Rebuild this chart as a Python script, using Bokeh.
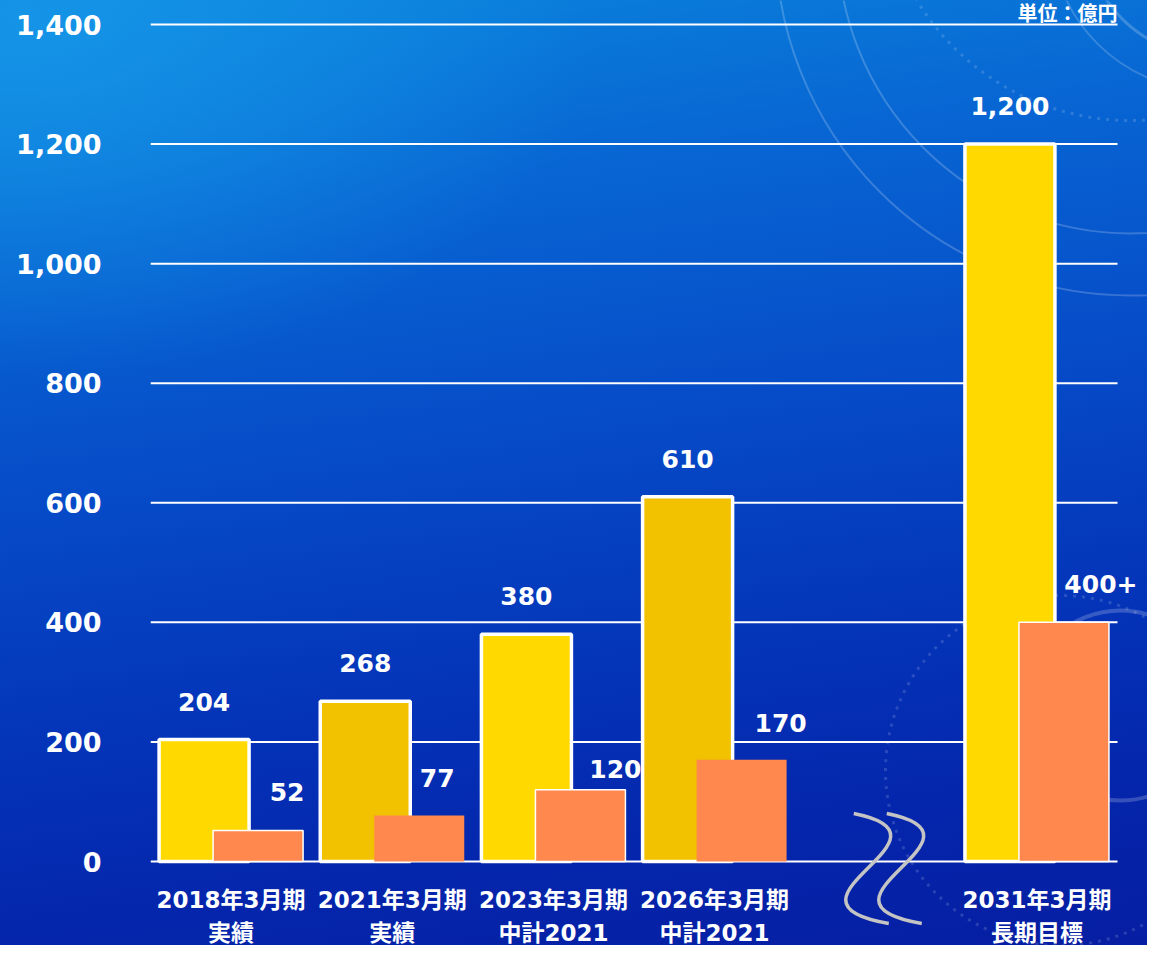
from bokeh.plotting import figure
from bokeh.models import ColumnDataSource, FixedTicker, NumeralTickFormatter
from bokeh.core.properties import value
from bokeh.transform import dodge
from bokeh.embed import file_html
from bokeh.resources import INLINE

# ---- data ----
periods = ["2018年3月期", "2021年3月期", "2023年3月期", "2026年3月期", "2031年3月期"]
kinds = ["実績", "実績", "中計2021", "中計2021", "長期目標"]
slots = [0, 1, 2, 3, 5]          # slot 4 is the axis break
yellow_vals = [204, 268, 380, 610, 1200]
orange_vals = [52, 77, 120, 170, 400]
yellow_text = ["204", "268", "380", "610", "1,200"]
orange_text = ["52", "77", "120", "170", "400+"]
y_ticks = [0, 200, 400, 600, 800, 1000, 1200, 1400]
unit_label = "単位：億円"

# ---- styling ----
yellow_colors = ["#FFD900", "#F2C200", "#FFD900", "#F2C200", "#FFD900"]
orange_color = "#FF884E"
orange_outline = [1.5, 0, 1.5, 0, 1.5]
orange_dx = [29, 18, 35, 39, 37]
orange_dy = [-38, -37, -21, -37, -38]
FONT = value("DejaVu Sans, Noto Sans CJK JP")

W, H = 1147, 945
LEFT = 150
PX_PER_Y = 837 / 1400
PX_PER_X = 161.17
BASE = 861
y_top = BASE / PX_PER_Y
y_bot = -(H - BASE) / PX_PER_Y
x_end = -0.5 + (W - LEFT) / PX_PER_X
X0, X1 = -0.5, 5.5   # plotting area used by grid lines

p = figure(width=W, height=H, x_range=(-0.5, x_end), y_range=(y_bot, y_top),
           output_backend="svg", toolbar_location=None,
           min_border_left=LEFT, min_border_right=0,
           min_border_top=0, min_border_bottom=0)
p.styles = {"background": "radial-gradient(ellipse 50% 38% at 2% 2%, rgba(22,150,232,0.9) 0%, rgba(22,150,232,0) 100%), "
                          "linear-gradient(172deg, #0A86DD 0%, #0866D3 22%, #064CC8 45%, #0436BA 66%, #0426AC 84%, #061EA2 100%)"}
p.border_fill_color = None
p.background_fill_color = None
p.outline_line_color = None
p.xaxis.visible = False
p.grid.visible = False

yax = p.yaxis[0]
yax.ticker = FixedTicker(ticks=y_ticks)
yax.formatter = NumeralTickFormatter(format="0,0")
yax.axis_line_color = None
yax.major_tick_line_color = None
yax.minor_tick_line_color = None
yax.major_label_standoff = 43
yax.major_label_text_color = "white"
yax.major_label_text_font = "DejaVu Sans"
yax.major_label_text_font_style = "bold"
yax.major_label_text_font_size = "27px"

# faint decorative rings
def px2x(px):
    return (px - LEFT) / PX_PER_X - 0.5
def py2y(py):
    return (BASE - py) / PX_PER_Y
deco = ColumnDataSource(dict(
    x=[px2x(1130), px2x(1130), px2x(1210), px2x(1210), px2x(1120)],
    y=[py2y(-60), py2y(-60), py2y(-70), py2y(-70), py2y(705)],
    r=[355, 293, 125, 160, 95],
    a=[0.2, 0.2, 0.2, 0.18, 0.2],
    w=[2, 2, 3, 2, 4],
))
p.circle(x="x", y="y", radius="r", radius_units="screen", source=deco,
         fill_color=None, line_color="white", line_alpha="a", line_width="w")
dots = ColumnDataSource(dict(x=[px2x(1130), px2x(1060)], y=[py2y(-130), py2y(770)], r=[250, 175]))
p.circle(x="x", y="y", radius="r", radius_units="screen", source=dots,
         fill_color=None, line_color="white", line_alpha=0.15, line_width=3, line_dash="3 6")

# grid lines (white) across the plotting area
gsrc = ColumnDataSource(dict(y=y_ticks, x0=[X0] * len(y_ticks), x1=[X1] * len(y_ticks)))
p.segment(x0="x0", x1="x1", y0="y", y1="y", source=gsrc, line_color="white", line_width=2)

src = ColumnDataSource(dict(
    slot=slots, yv=yellow_vals, ov=orange_vals, yt=yellow_text, ot=orange_text,
    period=periods, kind=kinds, ycol=yellow_colors, olw=orange_outline,
    odx=orange_dx, ody=orange_dy, zero=[0] * len(slots),
))
OFF = 27 / PX_PER_X
BW = 90 / PX_PER_X
p.vbar(x=dodge("slot", -OFF, range=p.x_range), top="yv", width=BW, source=src,
       fill_color="ycol", line_color="white", line_width=3.5)
p.vbar(x=dodge("slot", OFF, range=p.x_range), top="ov", width=BW, source=src,
       fill_color=orange_color, line_color="white", line_width="olw")

p.text(x=dodge("slot", -OFF, range=p.x_range), y="yv", text="yt", source=src,
       y_offset=-38, text_align="center", text_baseline="middle",
       text_color="white", text_font=value("DejaVu Sans"), text_font_style="bold",
       text_font_size="25px")
p.text(x=dodge("slot", OFF, range=p.x_range), y="ov", text="ot", source=src,
       x_offset="odx", y_offset="ody", text_align="center", text_baseline="middle",
       text_color="white", text_font=value("DejaVu Sans"), text_font_style="bold",
       text_font_size="25px")

p.text(x="slot", y="zero", text="period", source=src, y_offset=38,
       text_align="center", text_baseline="middle", text_color="white",
       text_font=FONT, text_font_style="bold", text_font_size="23px")
p.text(x="slot", y="zero", text="kind", source=src, y_offset=71,
       text_align="center", text_baseline="middle", text_color="white",
       text_font=FONT, text_font_style="bold", text_font_size="23px")

# unit label at top-right
p.text(x=[X1], y=[y_ticks[-1]], text=[unit_label], y_offset=-23,
       text_align="right", text_baseline="top", text_color="white",
       text_font=FONT, text_font_style="bold", text_font_size="20px")

# axis-break squiggle at slot 4
bx = 4
def sx(dpx):
    return bx + dpx / PX_PER_X
def sy(dpy):
    return -dpy / PX_PER_Y
for shift in (0, 33):
    p.bezier(x0=[sx(-22 + shift)], y0=[sy(-48)], x1=[sx(13 + shift)], y1=[sy(62)],
             cx0=[sx(95 + shift)], cy0=[sy(-25)], cx1=[sx(-115 + shift)], cy1=[sy(40)],
             line_color="#C4C4C4", line_width=3.5)

open("out.html", "w").write(file_html(p, INLINE))
